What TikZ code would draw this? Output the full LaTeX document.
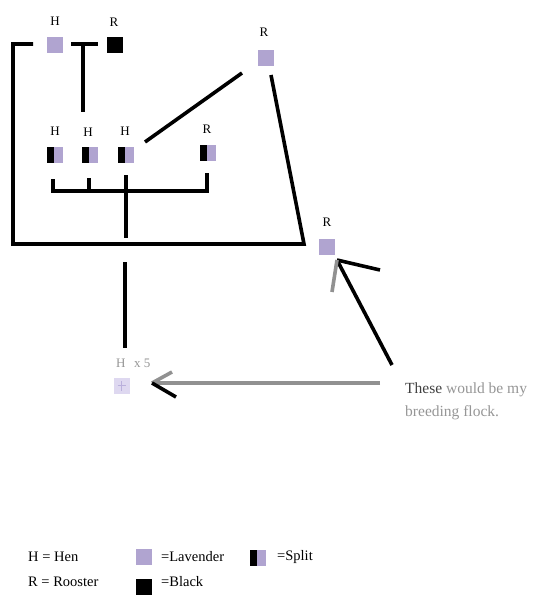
\documentclass[tikz,border=0pt]{standalone}
\usepackage{fontspec}
\setmainfont{Liberation Serif}
\definecolor{lav}{RGB}{176,164,208}
\definecolor{lavfade}{RGB}{222,216,240}
\definecolor{lavplus}{RGB}{186,176,220}
\definecolor{arrgray}{RGB}{145,145,145}
\definecolor{txtgray}{RGB}{150,150,150}
\begin{document}
\begin{tikzpicture}[x=1pt,y=-1pt,
  sq/.style={minimum size=16pt,inner sep=0pt,outer sep=0pt},
  lavsq/.style={sq,fill=lav},
  blksq/.style={sq,fill=black},
  splitsq/.style={sq,fill=lav,path picture={\fill[black] (path picture bounding box.south west) rectangle ([xshift=-1pt]path picture bounding box.north);}},
  lbl/.style={font=\fontsize{13}{15}\selectfont,inner sep=0pt},
  leg/.style={font=\fontsize{14.5}{17}\selectfont,inner sep=0pt,anchor=west},
  ln/.style={line width=3.6pt},
  gln/.style={line width=3.6pt,arrgray}]
\useasboundingbox (0,0) rectangle (552,596);
\fill[white] (0,0) rectangle (552,596);
% top generation
\node[lavsq] (h0) at (55,45) {};
\node[lbl] (h0l) at (55,21) {H};
\node[blksq] (r0) at (115,45) {};
\node[lbl] (r0l) at (114,22) {R};
% second rooster
\node[lavsq] (r1) at (266,58) {};
\node[lbl] (r1l) at (264,32) {R};
% split offspring
\node[splitsq] (s1) at (55,155) {};
\node[lbl] (s1l) at (55,131) {H};
\node[splitsq] (s2) at (89.5,155) {};
\node[lbl] (s2l) at (88,132) {H};
\node[splitsq] (s3) at (126,155) {};
\node[lbl] (s3l) at (125,131) {H};
\node[splitsq] (s4) at (208,153) {};
\node[lbl] (s4l) at (207,129) {R};
% third rooster
\node[lavsq] (r2) at (326.5,246.5) {};
\node[lbl] (r2l) at (327,222) {R};
% result
\node[sq,fill=lavfade] (res) at (121.5,385.5) {};
\draw[lavplus,line width=1.6pt] ([yshift=-5pt]res.center) -- ([yshift=5pt]res.center) ([xshift=-4pt]res.center) -- ([xshift=4pt]res.center);
\node[lbl,text=txtgray,anchor=west] (resl) at (116,363) {H\ \ \,x 5};
% text
\node[leg,text=txtgray,font=\fontsize{15.5}{18}\selectfont] (note1) at (405,390) {\textcolor{black!75}{These} would be my};
\node[leg,text=txtgray,font=\fontsize{15.5}{18}\selectfont] (note2) at (405,413) {breeding flock.};
% connectors
\coordinate (a1) at (33,44);
\coordinate (a2) at (13,44);
\coordinate (a3) at (13,244);
\coordinate (a4) at (304,244);
\coordinate (a5) at (271,75);
\draw[ln] (a1) -- (a2) -- (a3) -- (a4) -- (a5);
\coordinate (b1) at (71,44);
\coordinate (b2) at (98,44);
\coordinate (b3) at (83,44);
\coordinate (b4) at (83,112);
\draw[ln] (b1) -- (b2);
\draw[ln] (b3) -- (b4);
\coordinate (c1) at (242,73);
\coordinate (c2) at (145,142);
\draw[ln] (c1) -- (c2);
% bracket under splits
\coordinate (d1) at (53,179);
\coordinate (d2) at (53,191);
\coordinate (d3) at (207,191);
\coordinate (d4) at (207,173);
\draw[ln] (d1) -- (d2) -- (d3) -- (d4);
\coordinate (e1) at (89,178);
\coordinate (e2) at (89,191);
\draw[ln] (e1) -- (e2);
\coordinate (f1) at (126,175);
\coordinate (f2) at (126,238);
\draw[ln] (f1) -- (f2);
% down line
\coordinate (g1) at (125,262);
\coordinate (g2) at (125,348);
\draw[ln] (g1) -- (g2);
% gray arrow to result
\coordinate (k1) at (380,383);
\coordinate (k2) at (152,383);
\coordinate (k3) at (172,372);
\coordinate (k4) at (176,397);
\draw[gln] (k1) -- (k2);
\draw[gln] (k3) -- (k2);
\draw[ln] (k2) -- (k4);
% black arrow to rooster
\coordinate (m1) at (392,365);
\coordinate (m2) at (337,260);
\coordinate (m3) at (380,270);
\coordinate (m4) at (332,292);
\draw[ln] (m1) -- (m2);
\draw[ln] (m2) -- (m3);
\draw[gln] (m2) -- (m4);
% legend
\node[leg] (lh) at (28,557) {H = Hen};
\node[leg] (lr) at (28,582) {R = Rooster};
\node[lavsq] (ll) at (144,557) {};
\node[leg] (llt) at (161,557) {=Lavender};
\node[splitsq] (ls) at (258,557.5) {};
\node[leg] (lst) at (277,557) {=Split};
\node[blksq] (lb) at (144,586.5) {};
\node[leg] (lbt) at (161,582) {=Black};
\end{tikzpicture}
\end{document}
